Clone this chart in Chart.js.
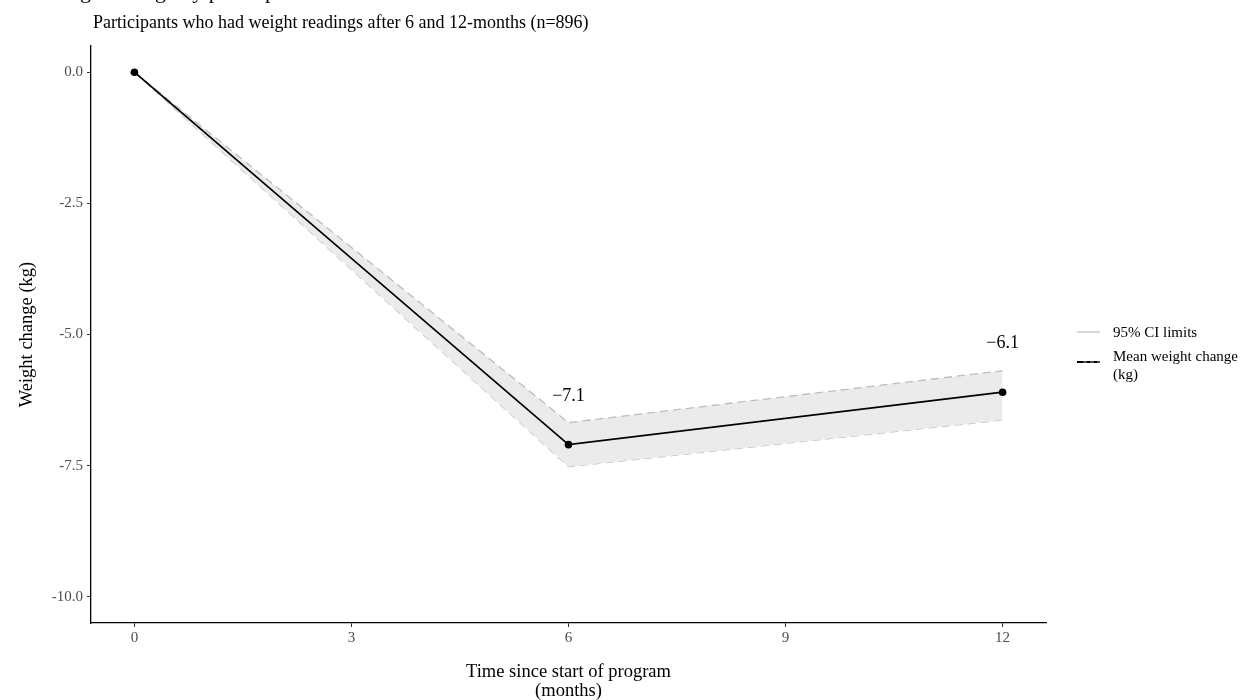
<!DOCTYPE html>
<html>
<head>
<meta charset="utf-8">
<script src="https://cdn.jsdelivr.net/npm/chart.js@4.4.1/dist/chart.umd.min.js"></script>
<style>
  html, body { margin: 0; padding: 0; background: #fff; }
  #wrap { width: 1242px; height: 700px; position: relative; }
</style>
</head>
<body>
<div id="wrap"><canvas id="weightChart" width="1242" height="700"></canvas></div>
<script>
// values
const months = [0, 6, 12];
const meanChange = [0, -7.1, -6.1];
const ciUpper = [0, -6.68, -5.69];
const ciLower = [0, -7.52, -6.63];
const pointLabels = ["", "\u22127.1", "\u22126.1"];

const xTicks = [0, 3, 6, 9, 12];
const yTicks = [0, -2.5, -5, -7.5, -10];
const yTickLabels = ["0.0", "-2.5", "-5.0", "-7.5", "-10.0"];

const SERIF = "'Liberation Serif', 'DejaVu Serif', serif";

function pts(ys) {
  return months.map((m, i) => ({ x: m, y: ys[i] }));
}

// titles, legend and value labels
const textPlugin = {
  id: "textPlugin",
  afterDraw(chart) {
    const ctx = chart.ctx;
    const area = chart.chartArea;
    const xs = chart.scales.x;
    const ys = chart.scales.y;
    ctx.save();

    // main title, mostly cut off at the top of the picture
    ctx.fillStyle = "#000";
    ctx.font = "22px " + SERIF;
    ctx.textAlign = "left";
    ctx.textBaseline = "alphabetic";
    ctx.fillText("Weight change by participants", 45, -2);

    // subtitle
    ctx.font = "18px " + SERIF;
    ctx.textBaseline = "middle";
    ctx.fillText("Participants who had weight readings after 6 and 12-months (n=896)", 93, 23);

    // axis titles
    ctx.font = "18.5px " + SERIF;
    ctx.textAlign = "center";
    const cx = (area.left + area.right) / 2;
    ctx.fillText("Time since start of program", cx, 672);
    ctx.fillText("(months)", cx, 691);

    ctx.save();
    ctx.translate(27, (area.top + area.bottom) / 2);
    ctx.rotate(-Math.PI / 2);
    ctx.fillText("Weight change (kg)", 0, 0);
    ctx.restore();

    // value labels above points
    ctx.font = "18px " + SERIF;
    months.forEach((m, i) => {
      if (!pointLabels[i]) return;
      ctx.fillText(pointLabels[i], xs.getPixelForValue(m), ys.getPixelForValue(meanChange[i] + 0.93));
    });

    // legend
    ctx.textAlign = "left";
    ctx.font = "15px " + SERIF;
    ctx.lineWidth = 1.6;
    ctx.strokeStyle = "#cfcfcf";
    ctx.beginPath(); ctx.moveTo(1077, 332); ctx.lineTo(1100, 332); ctx.stroke();
    ctx.fillText("95% CI limits", 1113, 333);

    ctx.lineWidth = 2;
    ctx.strokeStyle = "#000";
    ctx.beginPath(); ctx.moveTo(1077, 362); ctx.lineTo(1100, 362); ctx.stroke();
    ctx.lineWidth = 1;
    ctx.strokeStyle = "#999";
    ctx.setLineDash([4, 3]);
    ctx.beginPath(); ctx.moveTo(1083, 362); ctx.lineTo(1100, 362); ctx.stroke();
    ctx.setLineDash([]);
    ctx.fillText("Mean weight change", 1113, 357);
    ctx.fillText("(kg)", 1113, 375);

    ctx.restore();
  }
};

const chart = new Chart(document.getElementById("weightChart").getContext("2d"), {
  type: "line",
  data: {
    datasets: [
      {
        label: "Mean weight change (kg)",
        data: pts(meanChange),
        borderColor: "#000",
        backgroundColor: "#000",
        borderWidth: 1.7,
        pointRadius: 3.8,
        pointBackgroundColor: "#000",
        pointBorderWidth: 0,
        fill: false,
        tension: 0,
        order: 0
      },
      {
        label: "95% CI upper",
        data: pts(ciUpper),
        borderColor: "#bdbdbd",
        borderWidth: 1.3,
        borderDash: [8, 5],
        backgroundColor: "#ebebeb",
        pointRadius: 0,
        fill: "+1",
        tension: 0,
        order: 1
      },
      {
        label: "95% CI lower",
        data: pts(ciLower),
        borderColor: "#bdbdbd",
        borderWidth: 1.3,
        borderDash: [8, 5],
        pointRadius: 0,
        fill: false,
        tension: 0,
        order: 2
      }
    ]
  },
  options: {
    responsive: false,
    animation: false,
    layout: { padding: { left: 0, top: 46, right: 196, bottom: 0 } },
    plugins: {
      legend: { display: false },
      tooltip: { enabled: false }
    },
    scales: {
      x: {
        type: "linear",
        min: -0.6,
        max: 12.6,
        afterBuildTicks: s => { s.ticks = xTicks.map(v => ({ value: v })); },
        afterFit: s => { s.height = 77; },
        grid: { drawOnChartArea: false, drawTicks: true, tickLength: 4, color: "#333", lineWidth: 1 },
        border: { display: true, color: "#000", width: 1.3 },
        ticks: { color: "#4d4d4d", padding: 2, font: { family: SERIF, size: 15 } }
      },
      y: {
        type: "linear",
        min: -10.5,
        max: 0.5,
        afterBuildTicks: s => { s.ticks = yTicks.map(v => ({ value: v })); },
        afterFit: s => { s.width = 91; },
        grid: { drawOnChartArea: false, drawTicks: true, tickLength: 4, color: "#333", lineWidth: 1 },
        border: { display: true, color: "#000", width: 1.3 },
        ticks: {
          color: "#4d4d4d",
          padding: 4,
          font: { family: SERIF, size: 15 },
          callback: v => yTickLabels[yTicks.indexOf(v)]
        }
      }
    }
  },
  plugins: [textPlugin]
});
</script>
</body>
</html>
